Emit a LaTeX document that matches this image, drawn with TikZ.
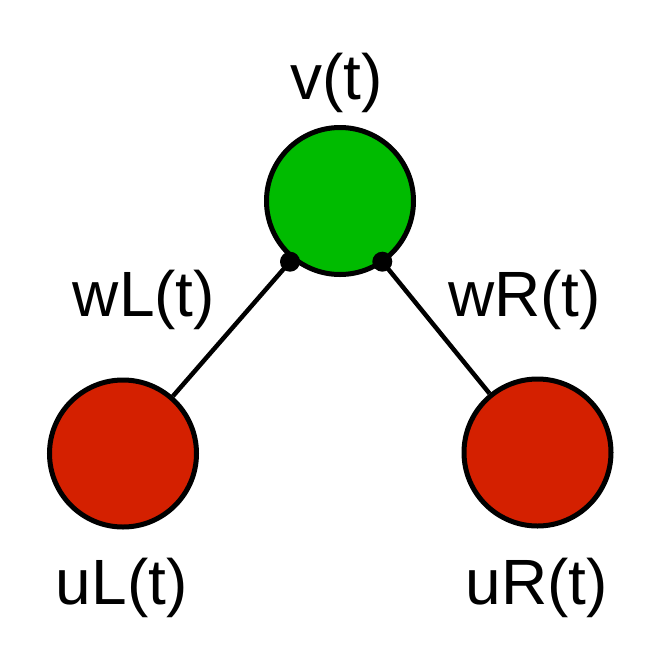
\documentclass[tikz,border=0pt]{standalone}
\usepackage{fontspec}
\setmainfont{Liberation Sans}
\begin{document}
\begin{tikzpicture}[x=1pt,y=-1pt,
  vertex/.style={circle,draw=black,line width=5pt,minimum size=147pt,inner sep=0pt},
  lbl/.style={anchor=base,inner sep=0pt,font=\fontsize{64}{70}\selectfont},
  conn/.style={draw=black,line width=4.5pt},
  joint/.style={fill=black}]
\definecolor{vgreen}{RGB}{0,187,0}
\definecolor{ured}{RGB}{212,32,0}
\useasboundingbox (0,0) rectangle (667,662);
\node[vertex,fill=vgreen] (v) at (340,201) {};
\node[vertex,fill=ured] (uL) at (123,453.5) {};
\node[vertex,fill=ured] (uR) at (537.5,452.5) {};
\coordinate (dL) at (290,261.7);
\coordinate (dR) at (382.3,261.7);
\draw[conn] (dL) -- (uL);
\draw[conn] (dR) -- (uR);
\fill[joint] (dL) circle (10);
\fill[joint] (dR) circle (10);
\node[lbl] (tv) at (336.7,99.5) {v(t)};
\node[lbl] (twL) at (144,316.6) {wL(t)};
\node[lbl] (twR) at (524.5,316.6) {wR(t)};
\node[lbl] (tuL) at (121.7,604.6) {uL(t)};
\node[lbl] (tuR) at (536.7,604.6) {uR(t)};
\end{tikzpicture}
\end{document}
